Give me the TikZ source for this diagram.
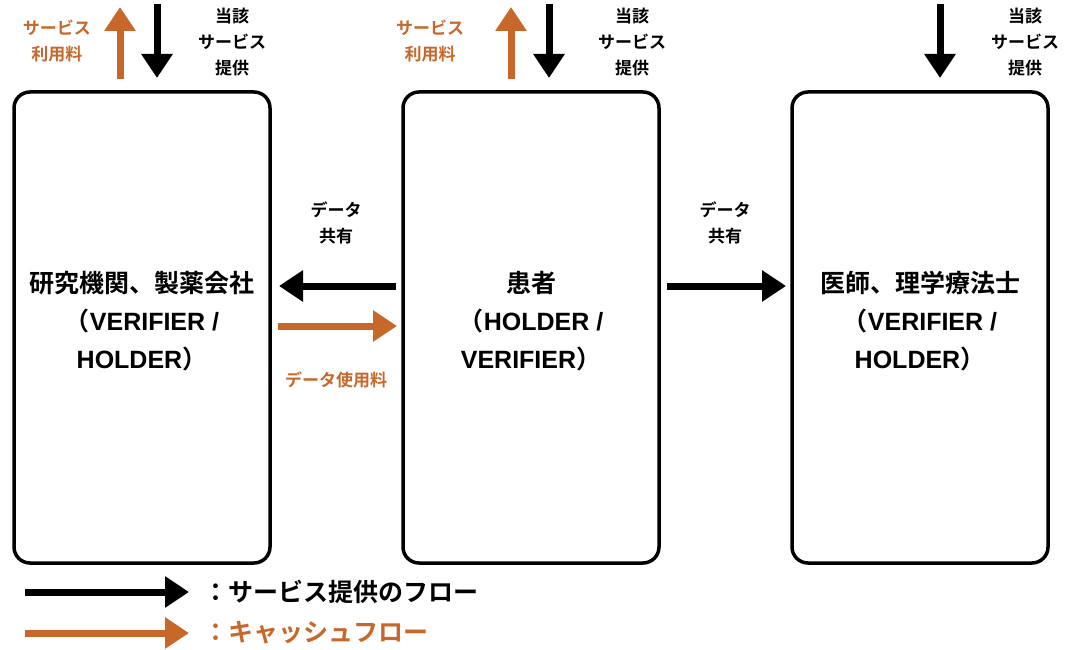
\documentclass[tikz,border=0pt]{standalone}
\usepackage{fontspec}
\setmainfont{Noto Sans CJK JP}[BoldFont={* Bold}]
\newfontfamily\latinf{Liberation Sans}
\usetikzlibrary{arrows.meta}
\definecolor{cash}{HTML}{C8672A}
\begin{document}
\begin{tikzpicture}[x=1pt,y=-1pt,
  box/.style={draw,line width=3.5pt,rounded corners=16pt},
  flow/.style={line width=7pt,-{Triangle[length=24pt,width=30pt]}},
  lbl/.style={font=\bfseries\fontsize{17}{26}\selectfont,align=center,inner sep=0pt},
  big/.style={font=\bfseries\fontsize{25}{38}\selectfont,align=center,inner sep=0pt}]
\useasboundingbox (0,0) rectangle (1066,650);
% boxes
\draw[box] (14,92) rectangle (270,563);
\draw[box] (403,92) rectangle (659,563);
\draw[box] (792,92) rectangle (1048,563);
\node[big] (b1) at (142,321) {研究機関、製薬会社\\（{\latinf VERIFIER /}\\{\latinf HOLDER}）};
\node[big] (b2) at (531,321) {患者\\（{\latinf HOLDER /}\\{\latinf VERIFIER}）};
\node[big] (b3) at (920,321) {医師、理学療法士\\（{\latinf VERIFIER /}\\{\latinf HOLDER}）};
% top arrows
\coordinate (u1s) at (120,79); \coordinate (u1e) at (120,7);
\coordinate (d1s) at (157,4); \coordinate (d1e) at (157,78);
\draw[flow,cash] (u1s) -- (u1e);
\draw[flow] (d1s) -- (d1e);
\coordinate (u2s) at (511,79); \coordinate (u2e) at (511,7);
\coordinate (d2s) at (549,4); \coordinate (d2e) at (549,78);
\draw[flow,cash] (u2s) -- (u2e);
\draw[flow] (d2s) -- (d2e);
\coordinate (d3s) at (940,4); \coordinate (d3e) at (940,78);
\draw[flow] (d3s) -- (d3e);
\node[lbl,text=cash] (f1) at (57,41) {サービス\\利用料};
\node[lbl] (s1) at (232,42) {当該\\サービス\\提供};
\node[lbl,text=cash] (f2) at (430,41) {サービス\\利用料};
\node[lbl] (s2) at (632,42) {当該\\サービス\\提供};
\node[lbl] (s3) at (1025,42) {当該\\サービス\\提供};
% middle arrows
\coordinate (m1s) at (396,286); \coordinate (m1e) at (279,286);
\draw[flow] (m1s) -- (m1e);
\coordinate (m2s) at (278,326); \coordinate (m2e) at (397,326);
\draw[flow,cash] (m2s) -- (m2e);
\node[lbl] (ds1) at (336,223) {データ\\共有};
\node[lbl,text=cash] (du) at (336,380) {データ使用料};
\coordinate (m3s) at (667,286); \coordinate (m3e) at (786,286);
\draw[flow] (m3s) -- (m3e);
\node[lbl] (ds2) at (725,223) {データ\\共有};
% legend
\coordinate (l1s) at (25,592); \coordinate (l1e) at (189,592);
\draw[flow] (l1s) -- (l1e);
\coordinate (l2s) at (25,633); \coordinate (l2e) at (189,633);
\draw[flow,cash] (l2s) -- (l2e);
\node[big,anchor=west] (lg1) at (203,592) {：サービス提供のフロー};
\node[big,anchor=west,text=cash] (lg2) at (203,633) {：キャッシュフロー};
\end{tikzpicture}
\end{document}
